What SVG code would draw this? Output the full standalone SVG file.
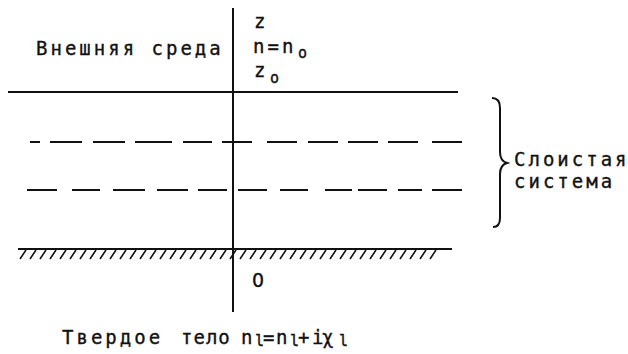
<svg xmlns="http://www.w3.org/2000/svg" width="628" height="354" viewBox="0 0 628 354">
<style>
.t{font-family:"DejaVu Sans Mono","Liberation Mono",monospace;font-size:19px;letter-spacing:3px;fill:#111;stroke:#111;stroke-width:0.35}
.s{font-size:15px;letter-spacing:0}
.n{letter-spacing:0}
.ln{stroke:#111;stroke-width:2;fill:none;stroke-linecap:butt}
.th{stroke:#111;stroke-width:1.6;fill:none}
</style>
<rect width="628" height="354" fill="#fff"/>
<g id="connectors">
<path class="ln" d="M233 8V312"/>
<path class="ln" d="M8 92H458"/>
<path class="ln" d="M30 142H40M50 142H82M93 142H125M135 142H172M183 142H212M222 142H252M267 142H297M308 142H338M348 142H378M388 142H418M432 142H462"/>
<path class="ln" d="M27 190H57M72 190H100M113 190H145M157 190H188M198 190H227M238 190H267M280 190H308M325 190H352M358 190H387M398 190H422M432 190H462"/>
<path class="ln" d="M18 249H452"/>
<path class="th" d="M26 250l-6 9m16 -9l-6 9m16 -9l-6 9m16 -9l-6 9m16 -9l-6 9m16 -9l-6 9m16 -9l-6 9m16 -9l-6 9m16 -9l-6 9m16 -9l-6 9m16 -9l-6 9m16 -9l-6 9m16 -9l-6 9m16 -9l-6 9m16 -9l-6 9m16 -9l-6 9m16 -9l-6 9m16 -9l-6 9m16 -9l-6 9m16 -9l-6 9m16 -9l-6 9m16 -9l-6 9m16 -9l-6 9m16 -9l-6 9m16 -9l-6 9m16 -9l-6 9m16 -9l-6 9m16 -9l-6 9m16 -9l-6 9m16 -9l-6 9m16 -9l-6 9m16 -9l-6 9m16 -9l-6 9m16 -9l-6 9m16 -9l-6 9m16 -9l-6 9m16 -9l-6 9m16 -9l-6 9m16 -9l-6 9m16 -9l-6 9m16 -9l-6 9m16 -9l-6 9"/>
<path class="ln" d="M492 98Q500 98 500 108L500 152Q500 161 507 163Q500 165 500 174L500 218Q500 227 493 227"/>
</g>
<g id="external-medium">
<text class="t" x="36" y="55">Внешняя среда</text>
<text class="t" x="254" y="28">z</text>
<text class="t" x="253" y="53">n=n</text>
<text class="t s" x="298" y="58">o</text>
<text class="t" x="254" y="77">z</text>
<text class="t s" x="270" y="83">o</text>
</g>
<g id="layered-system">
<text class="t" x="514" y="166">Слоистая</text>
<text class="t" x="514" y="188">система</text>
</g>
<g id="origin">
<text class="t" x="252" y="287" style="font-family:'DejaVu Sans',sans-serif">0</text>
</g>
<g id="solid-body">
<text class="t" x="62" y="344">Твердое</text>
<text class="t" x="181" y="344" style="letter-spacing:1px">тело</text>
<text class="t n" y="344"><tspan x="241">n</tspan><tspan class="s" x="255" y="346">l</tspan><tspan x="263" y="344">=</tspan><tspan x="276">n</tspan><tspan class="s" x="290" y="346">l</tspan><tspan x="298" y="344">+</tspan><tspan x="312">i</tspan><tspan x="322">χ</tspan><tspan class="s" x="339" y="346">l</tspan></text>
</g>
</svg>
